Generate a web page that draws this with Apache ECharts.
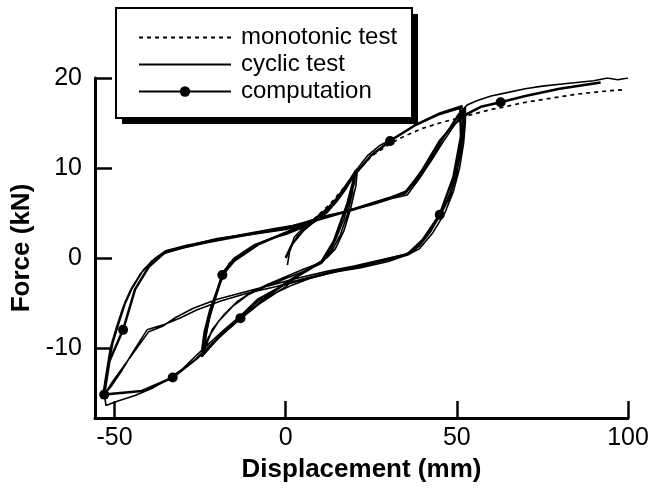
<!DOCTYPE html>
<html>
<head>
<meta charset="utf-8">
<script src="https://cdn.jsdelivr.net/npm/echarts@6/dist/echarts.min.js"></script>
<style>
html,body{margin:0;padding:0;background:#fff;}
#main{width:661px;height:489px;}
</style>
</head>
<body>
<div id="main"></div>
<script>
// tick labels
var xTicks = [-50, 0, 50, 100];
var yTicks = [-10, 0, 10, 20];

// monotonic test (dashed)
var monoData = [[0,0],[3,2.3],[8,4.2],[13,6],[17,7.8],[20,9.2],[25,11.3],[31,12.8],[35,13.6],[40,14.4],[45,15],[50,15.5],[55,16],[60,16.5],[64,16.8],[70,17.3],[75,17.6],[80,17.9],[85,18.2],[90,18.4],[95,18.6],[99,18.7]];

// cyclic test, segment by segment
var cycStart = [[0.5,-0.8],[1.2,0.8],[2.5,2.3],[5,3.3],[9,4.4],[13,5.8],[16.5,7.4],[19,8.8],[20.5,9.8]];
var cycSmallDown1 = [[20,8.2],[18.5,6.3],[17,4.3],[15,2.4],[13,0.8],[10.5,-0.4],[7,-1.3],[3,-2.2],[0,-3.2],[-4,-4.2],[-8,-5.2],[-13,-6.7],[-17,-8],[-21,-9.4],[-24.5,-11]];
var cycSmallUp1 = [[-23.5,-8.5],[-22,-6],[-20.5,-4],[-18.5,-2],[-16.5,-0.6],[-13,0.5],[-9,1.5],[-4,2.2],[0,2.6],[4,3.2],[8,3.9],[12,5],[15,6.3],[17.5,7.6],[19.5,8.9],[21,10]];
var cycSmallDown2 = [[20.5,8],[19,5.5],[17,3],[14.5,1],[12,0],[9,-0.7],[5,-1.3],[0,-2.1],[-5,-2.9],[-10,-3.8],[-14,-4.8],[-18,-6.3],[-21.5,-8],[-24,-10.5]];
var cycSmallUp2 = [[-23,-8],[-21.5,-5.5],[-19.5,-3.2],[-18,-1.8],[-15.5,-0.2],[-11,1],[-6,1.9],[0,2.8],[5,3.5],[9,4.4],[13,5.6],[16,7],[18.5,8.3],[20,9.2]];
var cycSmallDown3 = [[19.5,7.2],[18,4.8],[16,2.6],[13.5,0.8],[10.5,-0.6],[6,-1.4],[0,-2.3],[-6,-3.2],[-11,-4.1],[-15.5,-5.4],[-19.5,-7],[-22.5,-8.8],[-24.5,-10.2]];
var cycSmallUp3 = [[-23.8,-8.2],[-22.2,-5.8],[-20,-3.5],[-18.2,-1.5],[-15,0],[-10,1.2],[-5,2],[0,2.7],[5,3.4],[10,4.5],[14,5.9],[17,7.4],[19.5,8.8],[21.5,10.2],[24,11.4],[27.5,12.5],[31,13.2],[35,14.1],[40,15.2],[45,16.1],[49,16.6],[51.5,16.9]];
var cycBigDown1 = [[51.8,15.5],[51.3,13],[50,10],[48,7.2],[45.5,5],[42.5,3],[39,1.3],[36,0.4],[30,-0.4],[22,-1.1],[14,-1.6],[7,-2.3],[2,-3],[-3,-3.9],[-8,-4.8],[-13,-6.4],[-18,-8],[-22,-9.4],[-26,-10.8],[-30,-12.3],[-34,-13.4],[-39,-14.5],[-44,-15.3],[-49,-15.9],[-52.5,-16.4]];
var cycBigUp1 = [[-53,-15],[-52,-12.5],[-50.5,-9.5],[-49,-7.6],[-47,-5.2],[-45,-3.5],[-42,-1.6],[-38.5,-0.2],[-35,0.7],[-30,1.3],[-24,1.8],[-17,2.3],[-10,2.8],[-4,3.2],[2,3.6],[8,4.2],[14,4.8],[20,5.5],[26,6.2],[31,6.8],[35,7.4],[38.5,9],[42,11],[45.5,13],[48.5,14.8],[51,16],[52,16.6]];
var cycBigDown2 = [[52.2,15],[51.5,12.5],[50,9.5],[48,6.8],[45,4.6],[41.5,2.6],[38,1],[35,0.4],[28,-0.2],[20,-0.9],[12,-1.5],[4,-2.2],[-4,-3],[-12,-3.8],[-20,-4.6],[-27,-5.6],[-32,-6.6],[-36,-7.6],[-40,-8.2],[-44,-10.3],[-48,-12.4],[-51,-14],[-53.5,-15.5]];
var cycBigUp2 = [[-52.5,-13],[-51.2,-10],[-49.5,-7.8],[-47.5,-5.5],[-45.5,-3.7],[-42.5,-1.8],[-39,-0.3],[-35.5,0.5],[-30,1.1],[-23,1.7],[-16,2.2],[-9,2.7],[-2,3.1],[5,3.9],[12,4.7],[19,5.3],[26,6],[31,6.6],[35.5,7],[39,8.8],[42.5,10.8],[46,12.9],[49,14.6],[51.5,16],[52.5,16.8]];
var cycBigDown3 = [[52.5,15.2],[52,12.8],[50.8,10],[49,7.4],[46.5,5],[43,2.8],[39,1],[35.5,0.3],[29,-0.3],[21,-1],[13,-1.7],[5,-2.4],[-3,-3.2],[-11,-3.9],[-19,-4.8],[-26,-5.8],[-31,-6.7],[-35.5,-7.4],[-40.5,-8],[-44.5,-10.4],[-48,-12.6],[-51,-14.3],[-53.2,-15.3]];
var cycFinal = [[-52.2,-12.6],[-50.8,-9.7],[-49,-7.3],[-47,-5],[-44.8,-3.2],[-41.5,-1.3],[-38,0],[-35,0.8],[-29,1.4],[-22,1.9],[-15,2.4],[-8,2.9],[0,3.4],[7,4],[14,4.8],[21,5.6],[28,6.4],[33,7],[36,7.6],[40,9.5],[44,12],[47.5,14.2],[50.5,16],[53,17],[56,17.5],[60,18],[65,18.4],[70,18.8],[75,19.1],[80,19.3],[85,19.5],[90,19.7],[94,20],[97,19.8],[100,20]];

// computation path and the points drawn with a dot
var compPath = [[0,0],[2,1.6],[5,3],[10,4.6],[15,6.6],[20.5,9.6],
  [18,6],[14,1.8],[10.5,-0.4],[5,-1.6],[0,-2.8],[-6,-4.5],[-13.2,-6.7],[-19,-8.6],[-24.5,-10.9],
  [-22.5,-6.8],[-18.5,-1.9],[-15,-0.3],[-8,1.5],[0,2.8],[8,4.2],[14,6],[20,9.2],[25,11.4],[30.5,13],[38,14.8],[45,16],[51,16.7],
  [51.2,13.5],[49,9],[45,4.8],[40,2],[35.5,0.4],[25,-0.6],[12,-1.7],[0,-2.9],[-8,-4.6],[-14,-6.8],[-20,-9],[-26,-11.2],[-33,-13.3],[-42,-14.8],[-53,-15.2],
  [-51.5,-11.5],[-47.5,-8],[-44,-3.5],[-40,-1],[-35,0.7],[-20,2.1],[0,3.2],[20,5.4],[35,7.2],[40,9.8],[45,13],[49,14.8],[53,16],[57,16.8],[62.8,17.3],[70,18],[80,18.8],[92,19.5]];
var compDots = [[-13.2,-6.7],[-18.5,-1.9],[30.5,13],[45,4.8],[-33,-13.3],[-53,-15.2],[-47.5,-8],[62.8,17.3]];

var cycData = [].concat(cycStart, cycSmallDown1, cycSmallUp1, cycSmallDown2, cycSmallUp2,
  cycSmallDown3, cycSmallUp3, cycBigDown1, cycBigUp1, cycBigDown2, cycBigUp2, cycBigDown3, cycFinal);

function isDot(p){
  for(var i = 0; i < compDots.length; i++){
    if(compDots[i][0] == p[0] && compDots[i][1] == p[1]) return true;
  }
  return false;
}
var compData = compPath.map(function(p){
  return {value: p, symbolSize: isDot(p) ? 10 : 0};
});

var FONT = '"Liberation Sans", Arial, sans-serif';
var myChart = echarts.init(document.getElementById('main'));
var option = {
  animation: false,
  backgroundColor: '#fff',
  grid: {left: 95, right: 33, top: 78, bottom: 71},
  graphic: [
    {type: 'rect', z: 0, shape: {x: 122, y: 14, width: 296, height: 110}, style: {fill: '#000'}},
    {type: 'rect', z: 1, shape: {x: 116, y: 8, width: 296, height: 110}, style: {fill: '#fff', stroke: '#000', lineWidth: 2}}
  ],
  legend: {
    orient: 'vertical', left: 138, top: 25, z: 10, padding: 0,
    itemWidth: 92, itemHeight: 13, itemGap: 2, selectedMode: false,
    textStyle: {fontFamily: FONT, fontSize: 24, color: '#000', lineHeight: 25, padding: [0, 0, 0, 5]},
    data: [
      {name: 'monotonic test', itemStyle: {opacity: 0}},
      {name: 'cyclic test', itemStyle: {opacity: 0}},
      {name: 'computation'}
    ]
  },
  xAxis: {
    type: 'value', min: -55.7, max: 100,
    name: 'Displacement (mm)', nameLocation: 'middle', nameGap: 39,
    nameTextStyle: {fontFamily: FONT, fontWeight: 'bold', fontSize: 26, color: '#000'},
    axisLine: {onZero: false, lineStyle: {color: '#000', width: 3}},
    axisTick: {inside: true, length: 17, customValues: xTicks, lineStyle: {color: '#000', width: 2.5}},
    axisLabel: {customValues: xTicks, fontFamily: FONT, fontSize: 25, color: '#000', margin: 8},
    splitLine: {show: false}
  },
  yAxis: {
    type: 'value', min: -17.8, max: 20,
    name: 'Force (kN)', nameLocation: 'middle', nameGap: 59,
    nameTextStyle: {fontFamily: FONT, fontWeight: 'bold', fontSize: 26, color: '#000'},
    axisLine: {onZero: false, lineStyle: {color: '#000', width: 3}},
    axisTick: {inside: true, length: 17, customValues: yTicks, lineStyle: {color: '#000', width: 2.5}},
    axisLabel: {customValues: yTicks, fontFamily: FONT, fontSize: 25, color: '#000', margin: 13},
    splitLine: {show: false}
  },
  series: [
    {
      name: 'monotonic test', type: 'line', data: monoData, symbol: 'none', z: 2,
      lineStyle: {color: '#000', width: 1.7, type: [4, 4]}, itemStyle: {color: '#000'}
    },
    {
      name: 'cyclic test', type: 'line', data: cycData, symbol: 'none', z: 3,
      lineStyle: {color: '#000', width: 1.6}, itemStyle: {color: '#000'}
    },
    {
      name: 'computation', type: 'line', data: compData, symbol: 'circle', symbolSize: 10, z: 4,
      lineStyle: {color: '#000', width: 2.5}, itemStyle: {color: '#000'}
    }
  ]
};
myChart.setOption(option);
</script>
</body>
</html>
